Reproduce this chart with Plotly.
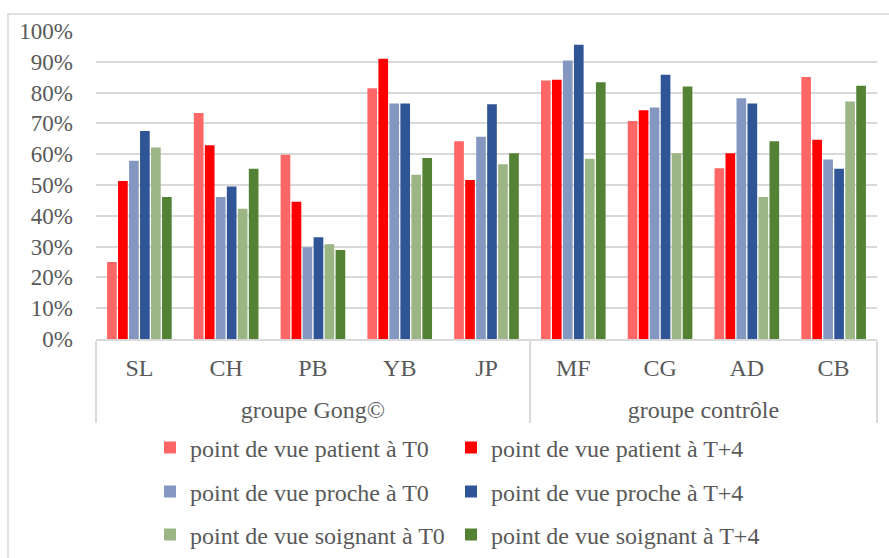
import plotly.graph_objects as go

groups = ["groupe Gong©"] * 5 + ["groupe contrôle"] * 4
people = ["SL", "CH", "PB", "YB", "JP", "MF", "CG", "AD", "CB"]

patient_t0 = [0.250, 0.734, 0.598, 0.814, 0.642, 0.839, 0.708, 0.554, 0.851]
patient_t4 = [0.513, 0.629, 0.446, 0.910, 0.516, 0.842, 0.743, 0.603, 0.647]
proche_t0 = [0.579, 0.461, 0.298, 0.765, 0.657, 0.904, 0.752, 0.782, 0.583]
proche_t4 = [0.675, 0.495, 0.330, 0.765, 0.762, 0.955, 0.858, 0.765, 0.553]
soignant_t0 = [0.622, 0.423, 0.308, 0.533, 0.567, 0.585, 0.603, 0.461, 0.771]
soignant_t4 = [0.461, 0.553, 0.289, 0.588, 0.603, 0.834, 0.820, 0.642, 0.822]

series_names = [
    "point de vue patient à T0", "point de vue patient à T+4",
    "point de vue proche à T0", "point de vue proche à T+4",
    "point de vue soignant à T0", "point de vue soignant à T+4",
]
series_values = [patient_t0, patient_t4, proche_t0, proche_t4, soignant_t0, soignant_t4]
colors = ["#FF6666", "#FF0000", "#8497C0", "#2F5597", "#9BB584", "#548235"]
legend_ids = ["legend", "legend", "legend2", "legend2", "legend3", "legend3"]
legend_widths = [256, 300, 256, 300, 256, 300]

FONT = "Liberation Serif"
GREY = "#595959"

# pad first-level labels vertically (bigger invisible spaces) to push the group row down
pad = "<span style='font-size:41px'>\u00a0</span>"
people_labels = [pad + p + pad for p in people]

fig = go.Figure()
for name, vals, col, lg, lw in zip(series_names, series_values, colors, legend_ids, legend_widths):
    fig.add_trace(go.Bar(
        x=[groups, people_labels], y=vals, name=name,
        marker=dict(color=col, line=dict(width=0)),
        legend=lg, legendwidth=lw,
    ))

W, H = 889, 558
L, R, T, B = 96, 12, 31, 219
pw = W - L - R
ph = H - T - B

def py(ypix):
    return (H - B - ypix) / ph

def px(xpix):
    return (xpix - L) / pw

leg_common = dict(orientation="h", xanchor="left", yanchor="middle",
                  font=dict(family=FONT, size=24, color=GREY),
                  bgcolor="rgba(0,0,0,0)", itemwidth=30)

fig.update_layout(
    width=W, height=H,
    margin=dict(l=L, r=R, t=T, b=B, autoexpand=False),
    paper_bgcolor="white", plot_bgcolor="white",
    font=dict(family=FONT, size=23, color=GREY),
    barmode="group", bargap=0.24, bargroupgap=0.12,
    legend=dict(x=px(150), y=py(448), **leg_common),
    legend2=dict(x=px(150), y=py(492), **leg_common),
    legend3=dict(x=px(150), y=py(535), **leg_common),
    yaxis=dict(range=[0, 1.0], tickformat=".0%", dtick=0.1, tick0=0,
               showgrid=True, gridcolor="#D9D9D9", gridwidth=1.5,
               zeroline=False, showline=False, ticks="",
               ticklabelstandoff=22,
               tickfont=dict(family=FONT, size=23, color=GREY)),
    xaxis=dict(type="multicategory", showline=True, linecolor="#D9D9D9", linewidth=1.5,
               showdividers=True, dividercolor="#D9D9D9", dividerwidth=1.5,
               ticks="", ticklabelstandoff=6,
               tickfont=dict(family=FONT, size=24, color=GREY)),
    shapes=[dict(type="rect", xref="paper", yref="paper",
                 x0=px(8), x1=px(900), y0=py(570), y1=py(14),
                 line=dict(color="#D9D9D9", width=1.5), fillcolor="rgba(0,0,0,0)",
                 layer="below")],
)

fig.write_html("out.html", config={"displayModeBar": False},
               post_script="document.body.style.margin='0';")
